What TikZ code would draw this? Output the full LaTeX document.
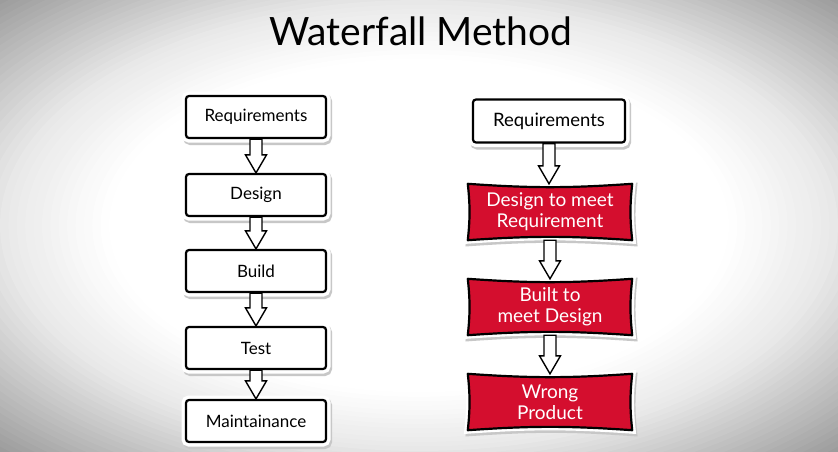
\documentclass[tikz,border=0pt]{standalone}
\usepackage{fontspec}
\setmainfont{Lato}
\usetikzlibrary{calc}
\pgfdeclarelayer{back}
\pgfdeclarelayer{shapes}
\pgfsetlayers{back,shapes,main}
\definecolor{wred}{RGB}{212,14,46}
\tikzset{
  paper/.style={minimum width=140pt, minimum height=42pt, rounded corners=3pt,
    line width=2.2pt, draw=black, fill=white, font=\fontsize{17}{20}\selectfont,
    preaction={draw=black!22, line width=9pt, transform canvas={xshift=1.5pt,yshift=-2.5pt}},
    preaction={draw=white, line width=9pt}},
  redbox/.style={minimum width=164pt, minimum height=56pt, text=white, align=center,
    font=\fontsize{19}{21}\selectfont},
  banner/.style={fill=wred, draw=black, line width=2.2pt, line join=round,
    preaction={draw=black!22, line width=7pt, transform canvas={xshift=1.5pt,yshift=-2.5pt}},
    preaction={draw=white, line width=7pt}},
  blockarrow/.style={draw=black, fill=white, line width=1.4pt, line join=miter},
}
\newcommand\blockarr[2]{\draw[blockarrow] let \p1=(#1.south), \p2=(#2.north) in
  (\x1-6pt,\y1) -- (\x1+6pt,\y1) -- (\x1+6pt,\y2+18pt) -- (\x1+10.5pt,\y2+18pt) --
  (\x1,\y2) -- (\x1-10.5pt,\y2+18pt) -- (\x1-6pt,\y2+18pt) -- cycle;}
\newcommand\redbanner[1]{\begin{pgfonlayer}{shapes}
  \draw[banner] (#1.north west) to[bend right=4] (#1.north east) to[bend right=6] (#1.south east)
    to[bend right=4] (#1.south west) to[bend right=6] cycle;
  \end{pgfonlayer}}
\begin{document}
\begin{tikzpicture}[x=1pt,y=-1pt]
\useasboundingbox (0,0) rectangle (838,451);
\begin{pgfonlayer}{back}
\begin{scope}
\clip (0,0) rectangle (838,451);
\fill[black!38] (0,0) rectangle (838,451);
\foreach \s in {1.42,1.40,...,0.72} {
  \pgfmathsetmacro\pc{\s>1 ? 9+(\s-1)/0.41*29 : max(0,(\s-0.75)/0.25*9)}
  \pgfmathsetmacro\rx{419*\s}
  \pgfmathsetmacro\ry{225.5*\s}
  \fill[black!\pc] (419,225.5) ellipse [x radius=\rx pt, y radius=\ry pt];
}
\end{scope}
\end{pgfonlayer}
\node (title) at (421,31) {\fontsize{39}{42}\selectfont Waterfall Method};
% left column
\node[paper] (l1) at (256,117) {Requirements};
\node[paper] (l2) at (256,195) {Design};
\node[paper] (l3) at (256,271) {Build};
\node[paper] (l4) at (256,348) {Test};
\node[paper] (l5) at (256,421) {Maintainance};
\blockarr{l1}{l2}
\blockarr{l2}{l3}
\blockarr{l3}{l4}
\blockarr{l4}{l5}
% right column
\node[paper, minimum width=152pt, minimum height=43pt, font=\fontsize{18.5}{21}\selectfont] (r1) at (549,121) {Requirements};
\node[redbox] (r2) at (550,212) {Design to meet\\Requirement};
\node[redbox] (r3) at (550,307) {Built to\\meet Design};
\node[redbox] (r4) at (550,402) {Wrong\\Product};
\redbanner{r2}
\redbanner{r3}
\redbanner{r4}
\blockarr{r1}{r2}
\blockarr{r2}{r3}
\blockarr{r3}{r4}
\end{tikzpicture}
\end{document}
